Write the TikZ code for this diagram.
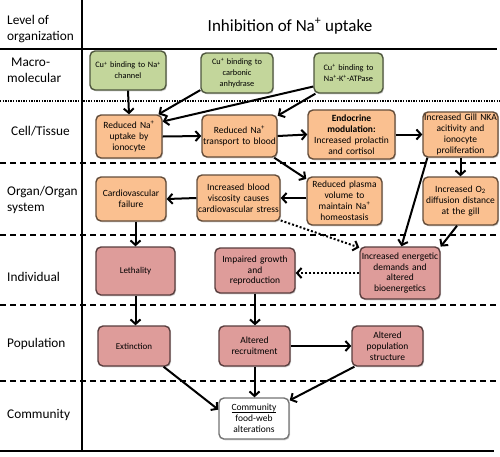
\documentclass[tikz,border=0pt]{standalone}
\usepackage{fontspec}
\setmainfont{Carlito}
\usetikzlibrary{arrows.meta,shadows}
\definecolor{gfill}{HTML}{C3D69B}
\definecolor{ofill}{HTML}{FAC090}
\definecolor{pfill}{HTML}{DE9C9A}
\newcommand{\sps}{\textsuperscript{+}}
\newcommand{\myul}[1]{\underline{\raisebox{0pt}[\height][0pt]{#1}}}
\begin{document}
\begin{tikzpicture}[x=1pt,y=-1pt,
  box/.style={rounded corners=5pt, line width=1.4pt, align=center, inner sep=0.5pt,
    drop shadow={shadow xshift=1pt,shadow yshift=-1.3pt,opacity=0.35}},
  gbox/.style={box, fill=gfill, draw=gfill!40!black, font=\fontsize{8.3}{11}\selectfont},
  obox/.style={box, fill=ofill, draw=ofill!40!black, font=\fontsize{9.5}{10.9}\selectfont},
  pbox/.style={box, fill=pfill, draw=pfill!40!black, font=\fontsize{9.5}{10.9}\selectfont},
  wbox/.style={box, fill=white, draw=black!55, font=\fontsize{9.5}{10.9}\selectfont},
  lab/.style={anchor=west, align=left, inner sep=0pt, font=\fontsize{13.3}{16}\selectfont},
  arr/.style={line width=2pt, -{Straight Barb[length=4.5pt,width=10pt]}},
  dotarr/.style={arr, dash pattern=on 2pt off 2pt},
  solidrule/.style={line width=2pt},
  dashrule/.style={line width=1.8pt, dash pattern=on 6pt off 4pt},
  dotrule/.style={line width=1.3pt, dash pattern=on 1.3pt off 1.3pt}]
\useasboundingbox (0,0) rectangle (500,456);
% grid
\draw[solidrule] (82,0) -- (82,451);
\draw[solidrule] (0,49) -- (497,49);
\draw[dotrule] (0,101) -- (500,101);
\draw[dashrule] (0,163) -- (500,163);
\draw[dashrule] (0,235) -- (500,235);
\draw[dashrule] (0,305) -- (500,305);
\draw[dashrule] (0,381) -- (500,381);
\draw[solidrule] (0,451) -- (494,451);
% labels
\node[lab] (l0) at (7,29.5) {Level of\\organization};
\node[lab] (l1) at (7,70.5) {\hspace{4pt}Macro-\\molecular};
\node[lab] (l2) at (11,131) {Cell/Tissue};
\node[lab] (l3) at (7,200) {Organ/Organ\\system};
\node[lab] (l4) at (7,277) {Individual};
\node[lab] (l5) at (7,344) {Population};
\node[lab] (l6) at (7,415) {Community};
\node[font=\fontsize{17}{20}\selectfont] (title) at (290,26) {Inhibition of Na\sps\ uptake};
% green
\node[gbox, minimum width=76, minimum height=39, text width=75] (g1) at (128,70.5) {Cu\sps\ binding to Na\sps\\channel};
\node[gbox, minimum width=72, minimum height=40, text width=71] (g2) at (237,73) {Cu\sps\ binding to\\carbonic\\anhydrase};
\node[gbox, minimum width=69, minimum height=40, text width=68] (g3) at (348.5,73) {Cu\sps\ binding to\\Na\sps-K\sps-ATPase};
% cell
\node[obox, minimum width=66, minimum height=43, text width=65] (o1) at (129,136.5) {Reduced Na\sps\\uptake by\\ionocyte};
\node[obox, minimum width=75, minimum height=42, text width=74] (o2) at (239.5,136) {Reduced Na\sps\\transport to blood};
\node[obox, minimum width=87, minimum height=49, text width=86] (o3) at (351.5,134.5) {\textbf{Endocrine}\\\textbf{modulation:}\\Increased prolactin\\and cortisol};
\node[obox, minimum width=75, minimum height=45, text width=74] (o4) at (460.5,134.5) {Increased Gill NKA\\acitivity and\\ionocyte\\proliferation};
% organ
\node[obox, minimum width=70, minimum height=44, text width=69] (o5) at (131,199) {Cardiovascular\\failure};
\node[obox, minimum width=83, minimum height=46, text width=82] (o6) at (238.5,198) {Increased blood\\viscosity causes\\cardiovascular stress};
\node[obox, minimum width=75, minimum height=48, text width=74] (o7) at (344.5,201) {Reduced plasma\\volume to\\maintain Na\sps\\homeostasis};
\node[obox, minimum width=75, minimum height=48, text width=74] (o8) at (460.5,201) {Increased O\textsubscript{2}\\diffusion distance\\at the gill};
% individual
\node[pbox, minimum width=79, minimum height=48, text width=78, font=\fontsize{9}{10.5}\selectfont] (r1) at (135.5,271) {Lethality};
\node[pbox, minimum width=80, minimum height=45, text width=79] (r2) at (255,270.5) {Impaired growth\\and\\reproduction};
\node[pbox, minimum width=80, minimum height=52, text width=79] (r3) at (400,273) {Increased energetic\\demands and\\altered\\bioenergetics};
% population
\node[pbox, minimum width=72, minimum height=40, text width=71, font=\fontsize{9}{10.5}\selectfont] (r4) at (134,346) {Extinction};
\node[pbox, minimum width=71, minimum height=40, text width=70] (r5) at (254.5,346) {Altered\\recruitment};
\node[pbox, minimum width=71, minimum height=40, text width=70] (r6) at (387.5,346) {Altered\\population\\structure};
% community
\node[wbox, minimum width=70, minimum height=41, text width=69] (w1) at (254,418.5) {\myul{Community}\\food-web\\alterations};
% connectors
\draw[arr] (g1.south) -- (o1.north);
\draw[arr] (g2.205) -- (o1.37);
\draw[arr] (g3.201) -- (o1.24);
\draw[arr] (g3.212) -- (o2.28);
\draw[arr] (o1.east) -- (o2.west);
\draw[arr] (o2.east) -- (o3.west);
\draw[arr] (o3.east) -- (o4.west);
\draw[arr] (o4.south) -- (o8.north);
\draw[arr] (o4.215) -- (r3.87);
\draw[arr] (o8.262) -- (r3.33);
\draw[arr] (o2.-32) -- (o7.150);
\draw[arr] (o7.west |- o6.east) -- (o6.east);
\draw[arr] (o6.west) -- (o5.east);
\draw[dotarr] (o6.-28) -- (r3.148);
\draw[dotarr] (r3.west) -- (r3.west -| r2.east);
\draw[arr] (o5.south -| r1.north) -- (r1.north);
\draw[arr] (r1.south) -- (r1.south |- r4.north);
\draw[arr] (r2.south) -- (r2.south |- r5.north);
\draw[arr] (r5.east) -- (r6.west);
\draw[arr] (r4.-35) -- (w1.166);
\draw[arr] (r5.south) -- (r5.south |- w1.north);
\draw[arr] (r6.212) -- (w1.27);
\end{tikzpicture}
\end{document}
